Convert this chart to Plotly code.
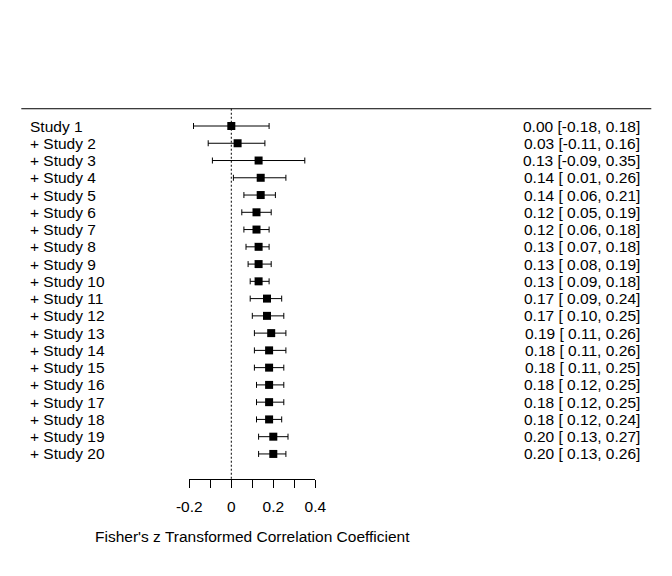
import plotly.graph_objects as go

labels = ["Study 1"] + [f"+ Study {i}" for i in range(2, 21)]
est = [0.00, 0.03, 0.13, 0.14, 0.14, 0.12, 0.12, 0.13, 0.13, 0.13,
       0.17, 0.17, 0.19, 0.18, 0.18, 0.18, 0.18, 0.18, 0.20, 0.20]
lo = [-0.18, -0.11, -0.09, 0.01, 0.06, 0.05, 0.06, 0.07, 0.08, 0.09,
      0.09, 0.10, 0.11, 0.11, 0.11, 0.12, 0.12, 0.12, 0.13, 0.13]
hi = [0.18, 0.16, 0.35, 0.26, 0.21, 0.19, 0.18, 0.18, 0.19, 0.18,
      0.24, 0.25, 0.26, 0.26, 0.25, 0.25, 0.25, 0.24, 0.27, 0.26]
tick_vals = [-0.2, -0.1, 0.0, 0.1, 0.2, 0.3, 0.4]
tick_text = ["-0.2", "", "0", "", "0.2", "", "0.4"]
x_title = "Fisher's z Transformed Correlation Coefficient"

W, H = 672, 576
FONT = "Arial, Liberation Sans, sans-serif"
FS = 15.5
rows = list(range(1, len(est) + 1))
ROW0_PX, ROW_STEP = 126.0, 17.26
y_top = 1 - ROW0_PX / ROW_STEP
y_bot = 1 + (H - ROW0_PX) / ROW_STEP
AXIS_PX = 479
axis_row = 1 + (AXIS_PX - ROW0_PX) / ROW_STEP
PX_PER_UNIT = 210.0
ZERO_PX = 231.3

def val_to_paper(v):
    return (ZERO_PX + v * PX_PER_UNIT) / W

fig = go.Figure()
fig.add_trace(go.Scatter(
    x=est, y=rows, mode="markers",
    marker=dict(symbol="square", size=8, color="black"),
    error_x=dict(type="data", symmetric=False,
                 array=[h - e for h, e in zip(hi, est)],
                 arrayminus=[e - l for e, l in zip(est, lo)],
                 color="black", thickness=1, width=3),
    showlegend=False, hoverinfo="skip", cliponaxis=False,
))

shapes = [
    dict(type="line", xref="paper", yref="y", x0=val_to_paper(-1), x1=val_to_paper(2),
         y0=0, y1=0, line=dict(color="black", width=1)),
    dict(type="line", xref="x", yref="y", x0=0, x1=0, y0=0, y1=axis_row,
         line=dict(color="black", width=1, dash="2px,2px")),
]
annotations = []
for r, lab in zip(rows, labels):
    annotations.append(dict(x=val_to_paper(-1), y=r, xref="paper", yref="y", text=lab,
                            showarrow=False, xanchor="left", yanchor="middle", xshift=7,
                            font=dict(family=FONT, size=FS, color="black")))
for r, e, l, h in zip(rows, est, lo, hi):
    annotations.append(dict(x=val_to_paper(2), y=r, xref="paper", yref="y",
                            text=f"{e:.2f} [{l:5.2f}, {h:.2f}]", showarrow=False,
                            xanchor="right", yanchor="middle", xshift=-9,
                            font=dict(family=FONT, size=FS, color="black")))

fig.update_layout(
    width=W, height=H, margin=dict(l=0, r=0, t=0, b=0, autoexpand=False),
    paper_bgcolor="white", plot_bgcolor="white",
    xaxis=dict(range=[tick_vals[0], tick_vals[-1]],
               domain=[val_to_paper(tick_vals[0]), val_to_paper(tick_vals[-1])],
               anchor="free", position=1 - AXIS_PX / H,
               showline=True, linecolor="black", linewidth=1,
               ticks="outside", ticklen=8, tickwidth=1, tickcolor="black",
               ticklabelstandoff=5,
               tickvals=tick_vals, ticktext=tick_text, showgrid=False, zeroline=False,
               tickfont=dict(family=FONT, size=FS, color="black"),
               title=dict(text=x_title, font=dict(family=FONT, size=FS, color="black"),
                          standoff=17)),
    yaxis=dict(range=[y_bot, y_top], visible=False, domain=[0, 1]),
    shapes=shapes, annotations=annotations,
)
fig.write_html("out.html", config={"displayModeBar": False},
               post_script="document.body.style.margin='0px';")
